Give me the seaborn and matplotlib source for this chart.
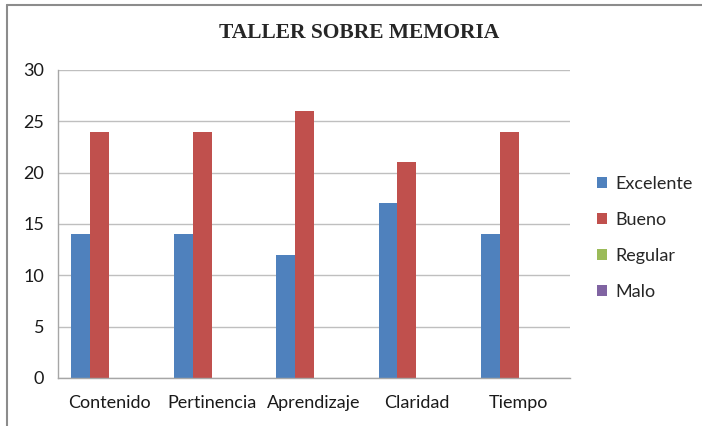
import seaborn as sns
import matplotlib.pyplot as plt
import pandas as pd
from matplotlib.lines import Line2D

categories = ['Contenido', 'Pertinencia', 'Aprendizaje', 'Claridad', 'Tiempo']
series = ['Excelente', 'Bueno', 'Regular', 'Malo']
excelente = [14, 14, 12, 17, 14]
bueno = [24, 24, 26, 21, 24]
regular = [0, 0, 0, 0, 0]
malo = [0, 0, 0, 0, 0]
colors = ['#4F81BD', '#C0504D', '#9BBB59', '#8064A2']
yticks = [0, 5, 10, 15, 20, 25, 30]

rows = []
for name, vals in zip(series, [excelente, bueno, regular, malo]):
    for cat, v in zip(categories, vals):
        rows.append({'categoria': cat, 'serie': name, 'valor': v})
df = pd.DataFrame(rows)

sns.set_style('white')
plt.rcParams['font.family'] = ['Lato', 'DejaVu Sans']

fig = plt.figure(figsize=(7.02, 4.26), dpi=100)
ax = fig.add_axes([0.0826, 0.1127, 0.7294, 0.723])

sns.barplot(data=df, x='categoria', y='valor', hue='serie',
            order=categories, hue_order=series, palette=colors,
            width=0.74, saturation=1, errorbar=None, linewidth=0, ax=ax)

ax.set_ylim(0, 30)
ax.set_yticks(yticks)
ax.set_xlim(-0.5, len(categories) - 0.5)
ax.yaxis.grid(True, color='#BFBFBF', linewidth=1)
ax.set_axisbelow(True)
for s in ['top', 'right']:
    ax.spines[s].set_visible(False)
for s in ['left', 'bottom']:
    ax.spines[s].set_color('#A6A6A6')
    ax.spines[s].set_linewidth(1)
ax.tick_params(axis='y', length=4, color='#A6A6A6', labelsize=13, pad=6, labelcolor='#1a1a1a')
ax.tick_params(axis='x', length=0, labelsize=13, pad=12, labelcolor='#1a1a1a')
ax.set_xlabel('')
ax.set_ylabel('')

fig.text(0.512, 0.922, 'TALLER SOBRE MEMORIA', family='Liberation Serif',
         fontweight='bold', fontsize=15.5, ha='center', va='center')

handles, labels = ax.get_legend_handles_labels()
ax.legend(handles, labels, loc='center left', bbox_to_anchor=(1.02, 0.455),
          frameon=False, fontsize=13, labelspacing=1.1, handlelength=0.6,
          handleheight=0.6, handletextpad=0.45)

# gray frame on left and top edges
fig.add_artist(Line2D([0.01, 0.01], [0, 0.988], color='#8C8C8C', linewidth=1.5,
                      transform=fig.transFigure))
fig.add_artist(Line2D([0.01, 1], [0.988, 0.988], color='#8C8C8C', linewidth=1.5,
                      transform=fig.transFigure))

fig.savefig('out.png', dpi=100)
